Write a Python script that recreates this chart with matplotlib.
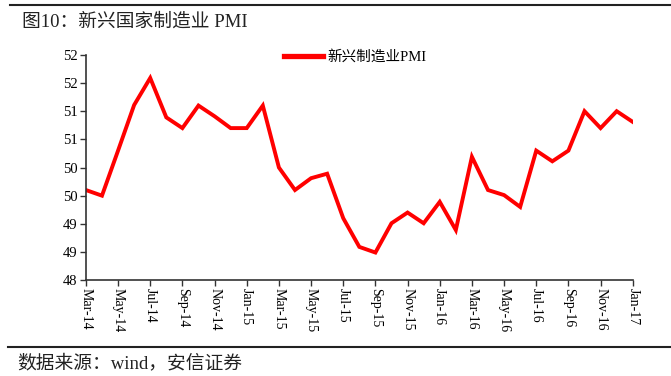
import matplotlib
matplotlib.use("Agg")
import matplotlib.pyplot as plt
from matplotlib.lines import Line2D

plt.rcParams['font.family'] = ['Liberation Serif', 'Noto Sans CJK SC', 'DejaVu Sans']

months = ['Mar-14','Apr-14','May-14','Jun-14','Jul-14','Aug-14','Sep-14','Oct-14','Nov-14','Dec-14',
          'Jan-15','Feb-15','Mar-15','Apr-15','May-15','Jun-15','Jul-15','Aug-15','Sep-15','Oct-15','Nov-15','Dec-15',
          'Jan-16','Feb-16','Mar-16','Apr-16','May-16','Jun-16','Jul-16','Aug-16','Sep-16','Oct-16','Nov-16','Dec-16',
          'Jan-17']
pmi = [49.60, 49.50, 50.30, 51.11, 51.59, 50.89, 50.70, 51.10, 50.91, 50.70,
       50.70, 51.10, 50.00, 49.60, 49.81, 49.89, 49.10, 48.59, 48.49, 49.01, 49.20, 49.01,
       49.39, 48.89, 50.19, 49.60, 49.51, 49.30, 50.30, 50.11, 50.30, 51.00, 50.70, 51.00,
       50.81]
ytick_vals = [48, 48.5, 49, 49.5, 50, 50.5, 51, 51.5, 52]
ytick_labels = ['48', '49', '49', '50', '50', '51', '51', '52', '52']
series_name = '新兴制造业PMI'
title = '图10：新兴国家制造业 PMI'
source = '数据来源：wind，安信证券'

fig = plt.figure(figsize=(6.71, 3.76), dpi=100)
ax = fig.add_axes([0.128, 0.255, 0.815, 0.599])
x = list(range(len(months)))
ax.plot(x, pmi, color='#FF0000', lw=2.8, solid_joinstyle='miter')
ax.set_xlim(0, len(months) - 1)
ax.set_ylim(48, 52)
ax.set_yticks(ytick_vals)
ax.set_yticklabels(ytick_labels, fontsize=10.5)
ax.set_xticks(x[::2])
ax.set_xticklabels(months[::2], rotation=270, fontsize=10, va='top', ha='center')
for s in ['top', 'right']:
    ax.spines[s].set_visible(False)
for s in ['left', 'bottom']:
    ax.spines[s].set_color('#333333')
    ax.spines[s].set_linewidth(1.2)
ax.tick_params(direction='out', length=4, width=1, color='#333333', pad=2)

ax.legend([Line2D([0], [0], color='#FF0000', lw=3.8)], [series_name],
          loc='center left', bbox_to_anchor=(0.362, 0.99), frameon=False,
          borderaxespad=0, borderpad=0,
          fontsize=10.5, handlelength=2.7, handletextpad=0.3)

fig.add_artist(Line2D([0.015, 1.0], [0.987, 0.987], color='#222222', lw=1.5))
fig.add_artist(Line2D([0.012, 1.0], [0.077, 0.077], color='#222222', lw=1.5))
fig.text(0.033, 0.942, title, fontsize=13.5, va='center', ha='left', color='#222222')
fig.text(0.025, 0.035, source, fontsize=13.5, va='center', ha='left', color='#222222')

fig.savefig('out.png', dpi=100)
